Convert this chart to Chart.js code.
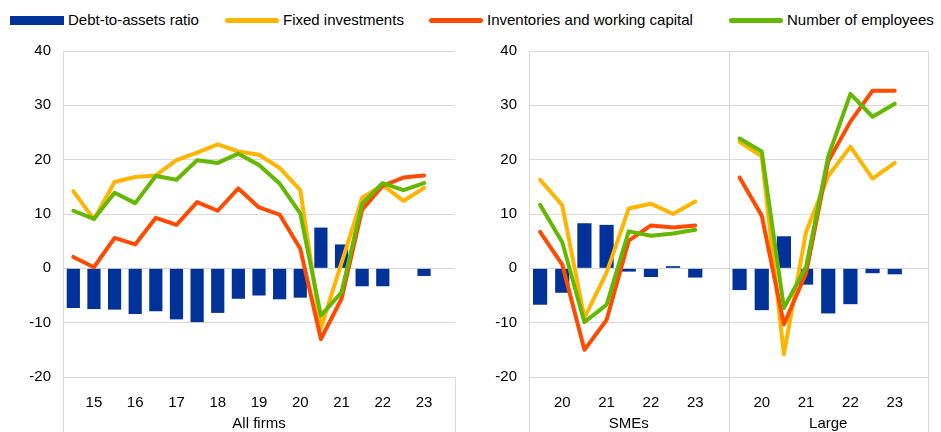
<!DOCTYPE html>
<html>
<head>
<meta charset="utf-8">
<script src="https://cdn.jsdelivr.net/npm/chart.js@4.4.1/dist/chart.umd.min.js"></script>
<style>
  body { margin: 0; width: 941px; height: 432px; background: #fff; position: relative; overflow: hidden;
         font-family: "Liberation Sans", Arial, sans-serif; }
  .legend-item { position: absolute; top: 10px; height: 20px; font-size: 15px; line-height: 20px; color: #000;
                 white-space: nowrap; display: flex; align-items: center; z-index: 2; }
  .legend-item .sw { width: 54px; margin-right: 4px; }
  #leftBox { position: absolute; left: 0; top: 30px; width: 470px; height: 402px; }
  #rightBox { position: absolute; left: 470px; top: 30px; width: 471px; height: 402px; }
</style>
</head>
<body>
<div id="legend"></div>
<div id="leftBox"><canvas id="allFirmsChart"></canvas></div>
<div id="rightBox"><canvas id="sizeChart"></canvas></div>

<script>
// ---- data (percentages) ----
const seriesNames = ['Debt-to-assets ratio', 'Fixed investments', 'Inventories and working capital', 'Number of employees'];

// All firms, half-yearly, last slot left empty
const allFirmsTicks = ['', '15', '', '16', '', '17', '', '18', '', '19', '', '20', '', '21', '', '22', '', '23', ''];
const allDebt        = [-7.3, -7.5, -7.6, -8.4, -7.9, -9.4, -9.9, -8.2, -5.6, -5.0, -5.7, -5.4, 7.5, 4.4, -3.3, -3.3, null, -1.4, null];
const allFixed       = [14.2, 9.0, 15.9, 16.8, 17.1, 19.9, 21.3, 22.8, 21.5, 20.9, 18.5, 14.4, -11.0, 1.0, 13.0, 15.3, 12.4, 14.8, null];
const allInventories = [2.1, 0.2, 5.6, 4.4, 9.3, 8.0, 12.2, 10.6, 14.7, 11.2, 9.9, 3.6, -13.0, -5.6, 10.8, 15.2, 16.7, 17.1, null];
const allEmployees   = [10.6, 9.1, 13.9, 12.0, 17.0, 16.3, 19.9, 19.4, 21.1, 19.0, 15.6, 10.1, -8.7, -4.4, 11.9, 15.7, 14.4, 15.7, null];

// SMEs (first 9 slots) and Large firms (last 9 slots)
const sizeTicks       = ['', '20', '', '21', '', '22', '', '23', '', '', '20', '', '21', '', '22', '', '23', ''];
const sizeDebt        = [-6.7, -4.5, 8.3, 8.0, -0.6, -1.6, 0.4, -1.7, null, -4.0, -7.7, 5.9, -3.0, -8.3, -6.6, -0.9, -1.1, null];
const sizeFixed       = [16.3, 11.6, -9.1, -0.8, 11.0, 11.9, 10.0, 12.3, null, 23.3, 20.6, -15.8, 6.7, 17.0, 22.4, 16.5, 19.4, null];
const sizeInventories = [6.7, 0.7, -15.0, -9.5, 5.1, 7.9, 7.5, 7.9, null, 16.7, 9.7, -10.3, -0.9, 19.7, 27.0, 32.7, 32.7, null];
const sizeEmployees   = [11.7, 4.8, -9.9, -6.7, 6.8, 6.0, 6.4, 7.1, null, 23.9, 21.5, -7.3, 0.3, 20.6, 32.1, 27.9, 30.3, null];

const allFirmsGroups = ['All firms'];
const sizeGroups = ['SMEs', 'Large'];

const yMin = -20, yMax = 40, yStep = 10;

// ---- styles ----
const colors = ['#003299', '#FFB400', '#FF4B00', '#65B800'];
const gridColor = '#d9d9d9';
const fontFamily = '"Liberation Sans", Arial, sans-serif';

// legend (shared by both panels)
const legendLefts = [10, 225, 429, 729];
const legendEl = document.getElementById('legend');
seriesNames.forEach((name, i) => {
    const item = document.createElement('div');
    item.className = 'legend-item';
    item.style.left = legendLefts[i] + 'px';
    const sw = document.createElement('span');
    sw.className = 'sw';
    sw.style.background = colors[i];
    sw.style.height = i === 0 ? '9px' : '5px';
    if (i > 0) sw.style.borderRadius = '3px';
    item.appendChild(sw);
    item.appendChild(document.createTextNode(name));
    legendEl.appendChild(item);
});

// frame lines + group titles under the category axis
const panelFrame = {
    id: 'panelFrame',
    afterDraw(chart, args, opts) {
        const x = chart.scales.x;
        const area = chart.chartArea;
        const ctx = chart.ctx;
        const step = x.getPixelForValue(1) - x.getPixelForValue(0);
        const n = chart.data.labels.length;
        const per = n / opts.groups.length;

        ctx.save();
        ctx.strokeStyle = gridColor;
        ctx.lineWidth = 1;
        // left axis line, group dividers, right edge
        for (let g = 0; g <= opts.groups.length; g++) {
            const px = Math.round(x.getPixelForValue(g * per) - step / 2) + 0.5;
            const top = (g === opts.groups.length && !opts.fullRight) ? area.bottom : area.top;
            ctx.beginPath();
            ctx.moveTo(px, top);
            ctx.lineTo(px, chart.height);
            ctx.stroke();
        }
        ctx.fillStyle = '#000';
        ctx.font = '15px ' + fontFamily;
        ctx.textAlign = 'center';
        ctx.textBaseline = 'middle';
        opts.groups.forEach((label, g) => {
            const left = x.getPixelForValue(g * per) - step / 2;
            const right = x.getPixelForValue((g + 1) * per - 1) + step / 2;
            ctx.fillText(label, (left + right) / 2, chart.height - 8);
        });
        ctx.restore();
    }
};

function buildChart(canvasId, ticks, debt, fixed, inv, emp, groups, axisWidth, padRight, fullRight) {
    const lineStyle = (label, data, color, order) => ({
        type: 'line', label: label, data: data, borderColor: color, backgroundColor: color,
        borderWidth: 4, pointRadius: 0, tension: 0, spanGaps: false,
        borderCapStyle: 'round', borderJoinStyle: 'round', order: order
    });

    return new Chart(document.getElementById(canvasId), {
        type: 'bar',
        data: {
            labels: ticks,
            datasets: [
                lineStyle(seriesNames[3], emp, colors[3], 1),
                lineStyle(seriesNames[2], inv, colors[2], 2),
                lineStyle(seriesNames[1], fixed, colors[1], 3),
                {
                    type: 'bar', label: seriesNames[0], data: debt, backgroundColor: colors[0],
                    barPercentage: 0.64, categoryPercentage: 1, order: 4
                }
            ]
        },
        options: {
            responsive: true,
            maintainAspectRatio: false,
            animation: false,
            layout: { padding: { top: 0, right: padRight, bottom: 0, left: 0 } },
            plugins: {
                legend: { display: false },
                tooltip: { enabled: false },
                panelFrame: { groups: groups, fullRight: fullRight }
            },
            scales: {
                x: {
                    offset: true,
                    grid: { display: false },
                    border: { display: false },
                    ticks: {
                        autoSkip: false, maxRotation: 0, padding: 9, color: '#000',
                        font: { family: fontFamily, size: 15 },
                        callback: (v, i) => ticks[i]
                    },
                    afterFit: s => { s.height = 55; }
                },
                y: {
                    min: yMin, max: yMax,
                    grid: { color: gridColor, drawTicks: false },
                    border: { display: false },
                    ticks: { stepSize: yStep, padding: 12, color: '#000', font: { family: fontFamily, size: 15 } },
                    afterFit: s => { s.width = axisWidth; }
                }
            }
        },
        plugins: [panelFrame]
    });
}

buildChart('allFirmsChart', allFirmsTicks, allDebt, allFixed, allInventories, allEmployees, allFirmsGroups, 63, 15, false);
buildChart('sizeChart', sizeTicks, sizeDebt, sizeFixed, sizeInventories, sizeEmployees, sizeGroups, 59, 13, true);
</script>
</body>
</html>
